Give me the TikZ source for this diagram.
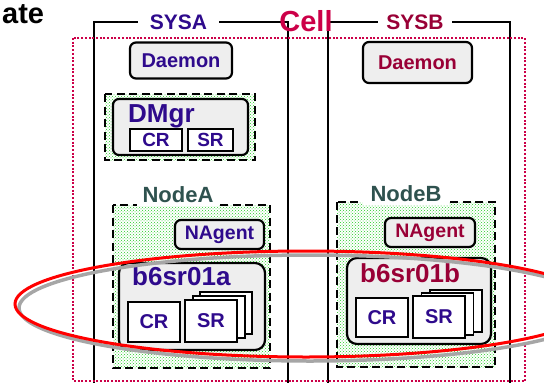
\documentclass[tikz,border=0pt]{standalone}
\usepackage{fontspec}
\setmainfont{Liberation Sans}
\usetikzlibrary{patterns}
\definecolor{sysblue}{HTML}{2E0A8C}
\definecolor{sysred}{HTML}{990036}
\definecolor{cellred}{HTML}{CC0048}
\definecolor{nodegray}{HTML}{2F524F}
\definecolor{dotgreen}{HTML}{22CC22}
\definecolor{boxgray}{HTML}{EEEEEE}

\begin{document}
\begin{tikzpicture}[x=1pt,y=-1pt,
		sz/.style={font=\fontsize{#1}{#1}\selectfont\bfseries},
		frame/.style={line width=1.7pt},
		tag/.style={fill=white,inner sep=0pt},
		proc/.style={draw,line width=2.2pt,rounded corners=6pt,fill=boxgray,inner sep=0pt},
		unit/.style={draw,line width=1.9pt,fill=white,inner sep=0pt},
		grp/.style={line width=2.5pt,dash pattern=on 8pt off 4.5pt,pattern=crosshatch dots,pattern color=dotgreen}]
	\useasboundingbox (0,0) rectangle (544,383);
	\node[sz=29,anchor=base west,inner sep=0pt] (ttl) at (2,23) {ate};
	\draw[frame] (94,390) -- (94,22) -- (288,22) -- (288,390);
	\draw[frame] (328,390) -- (328,22) -- (510,22) -- (510,390);
	\node[tag,sz=21,text=sysblue,minimum width=81] (sysa) at (178.5,22.5) {SYSA};
	\node[tag,sz=21,text=sysred,minimum width=74] (sysb) at (415,22.5) {SYSB};
	\draw[cellred,line width=2.2pt,dash pattern=on 2pt off 1.7pt] (73,38) rectangle (525,381);

	\node[proc,sz=20,text=sysblue,minimum width=102,minimum height=36] (daemona) at (181,60.5) {Daemon};
	\node[proc,sz=20,text=sysred,minimum width=109,minimum height=41] (daemonb) at (417.5,62.5) {Daemon};

	\draw[grp] (105,94) rectangle (255,160);
	\node[proc,minimum width=135,minimum height=56] (dmgr) at (180.5,127) {};
	\node[sz=26,text=sysblue,anchor=base west,inner sep=0pt] (dmgrname) at (128,122) {DMgr};
	\node[unit,sz=19,text=sysblue,minimum width=52,minimum height=22] (dmgrcr) at (156,140) {CR};
	\node[unit,sz=19,text=sysblue,minimum width=45,minimum height=22] (dmgrsr) at (210.5,140) {SR};

	\draw[grp] (113,205) rectangle (270,368);
	\node[tag,sz=22,text=nodegray,minimum width=82,minimum height=22] (nodea) at (178,195) {NodeA};
	\node[proc,sz=19.5,text=sysblue,minimum width=89,minimum height=29] (nagenta) at (219.5,234.5) {NAgent};
	\node[proc,rounded corners=10pt,minimum width=146,minimum height=87] (srva) at (192,306.5) {};
	\node[sz=26,text=sysblue,anchor=base west,inner sep=0pt] (srvaname) at (132,285) {b6sr01a};
	\node[unit,sz=20,text=sysblue,minimum width=52,minimum height=40] (srvacr) at (154,322) {CR};
	\foreach \i in {2,1}
		\node[unit,minimum width=52,minimum height=42] (srvasr\i) at (211+7.6*\i,321-3.8*\i) {};
	\node[unit,sz=20,text=sysblue,minimum width=52,minimum height=42] (srvasr) at (211,321) {SR};

	\draw[grp] (337,202) rectangle (495,367);
	\node[tag,sz=22,text=nodegray,minimum width=86,minimum height=22] (nodeb) at (406,194) {NodeB};
	\node[proc,sz=19.5,text=sysred,minimum width=90,minimum height=29] (nagentb) at (430,232.5) {NAgent};
	\node[proc,rounded corners=10pt,minimum width=144,minimum height=86] (srvb) at (419,301) {};
	\node[sz=26,text=sysred,anchor=base west,inner sep=0pt] (srvbname) at (360,282) {b6sr01b};
	\node[unit,sz=20,text=sysblue,minimum width=52,minimum height=39] (srvbcr) at (382,317.5) {CR};
	\foreach \i in {2,1}
		\node[unit,minimum width=52,minimum height=42] (srvbsr\i) at (439+8.5*\i,317-3*\i) {};
	\node[unit,sz=20,text=sysblue,minimum width=52,minimum height=42] (srvbsr) at (439,317) {SR};

	\draw[gray!70,line width=3.5pt] (310,308) ellipse [x radius=291pt,y radius=53pt];
	\draw[red,line width=3pt] (306,304) ellipse [x radius=291pt,y radius=53pt];
	\node[sz=29,text=cellred,inner sep=0pt] (cell) at (306,21) {Cell};
\end{tikzpicture}
\end{document}
